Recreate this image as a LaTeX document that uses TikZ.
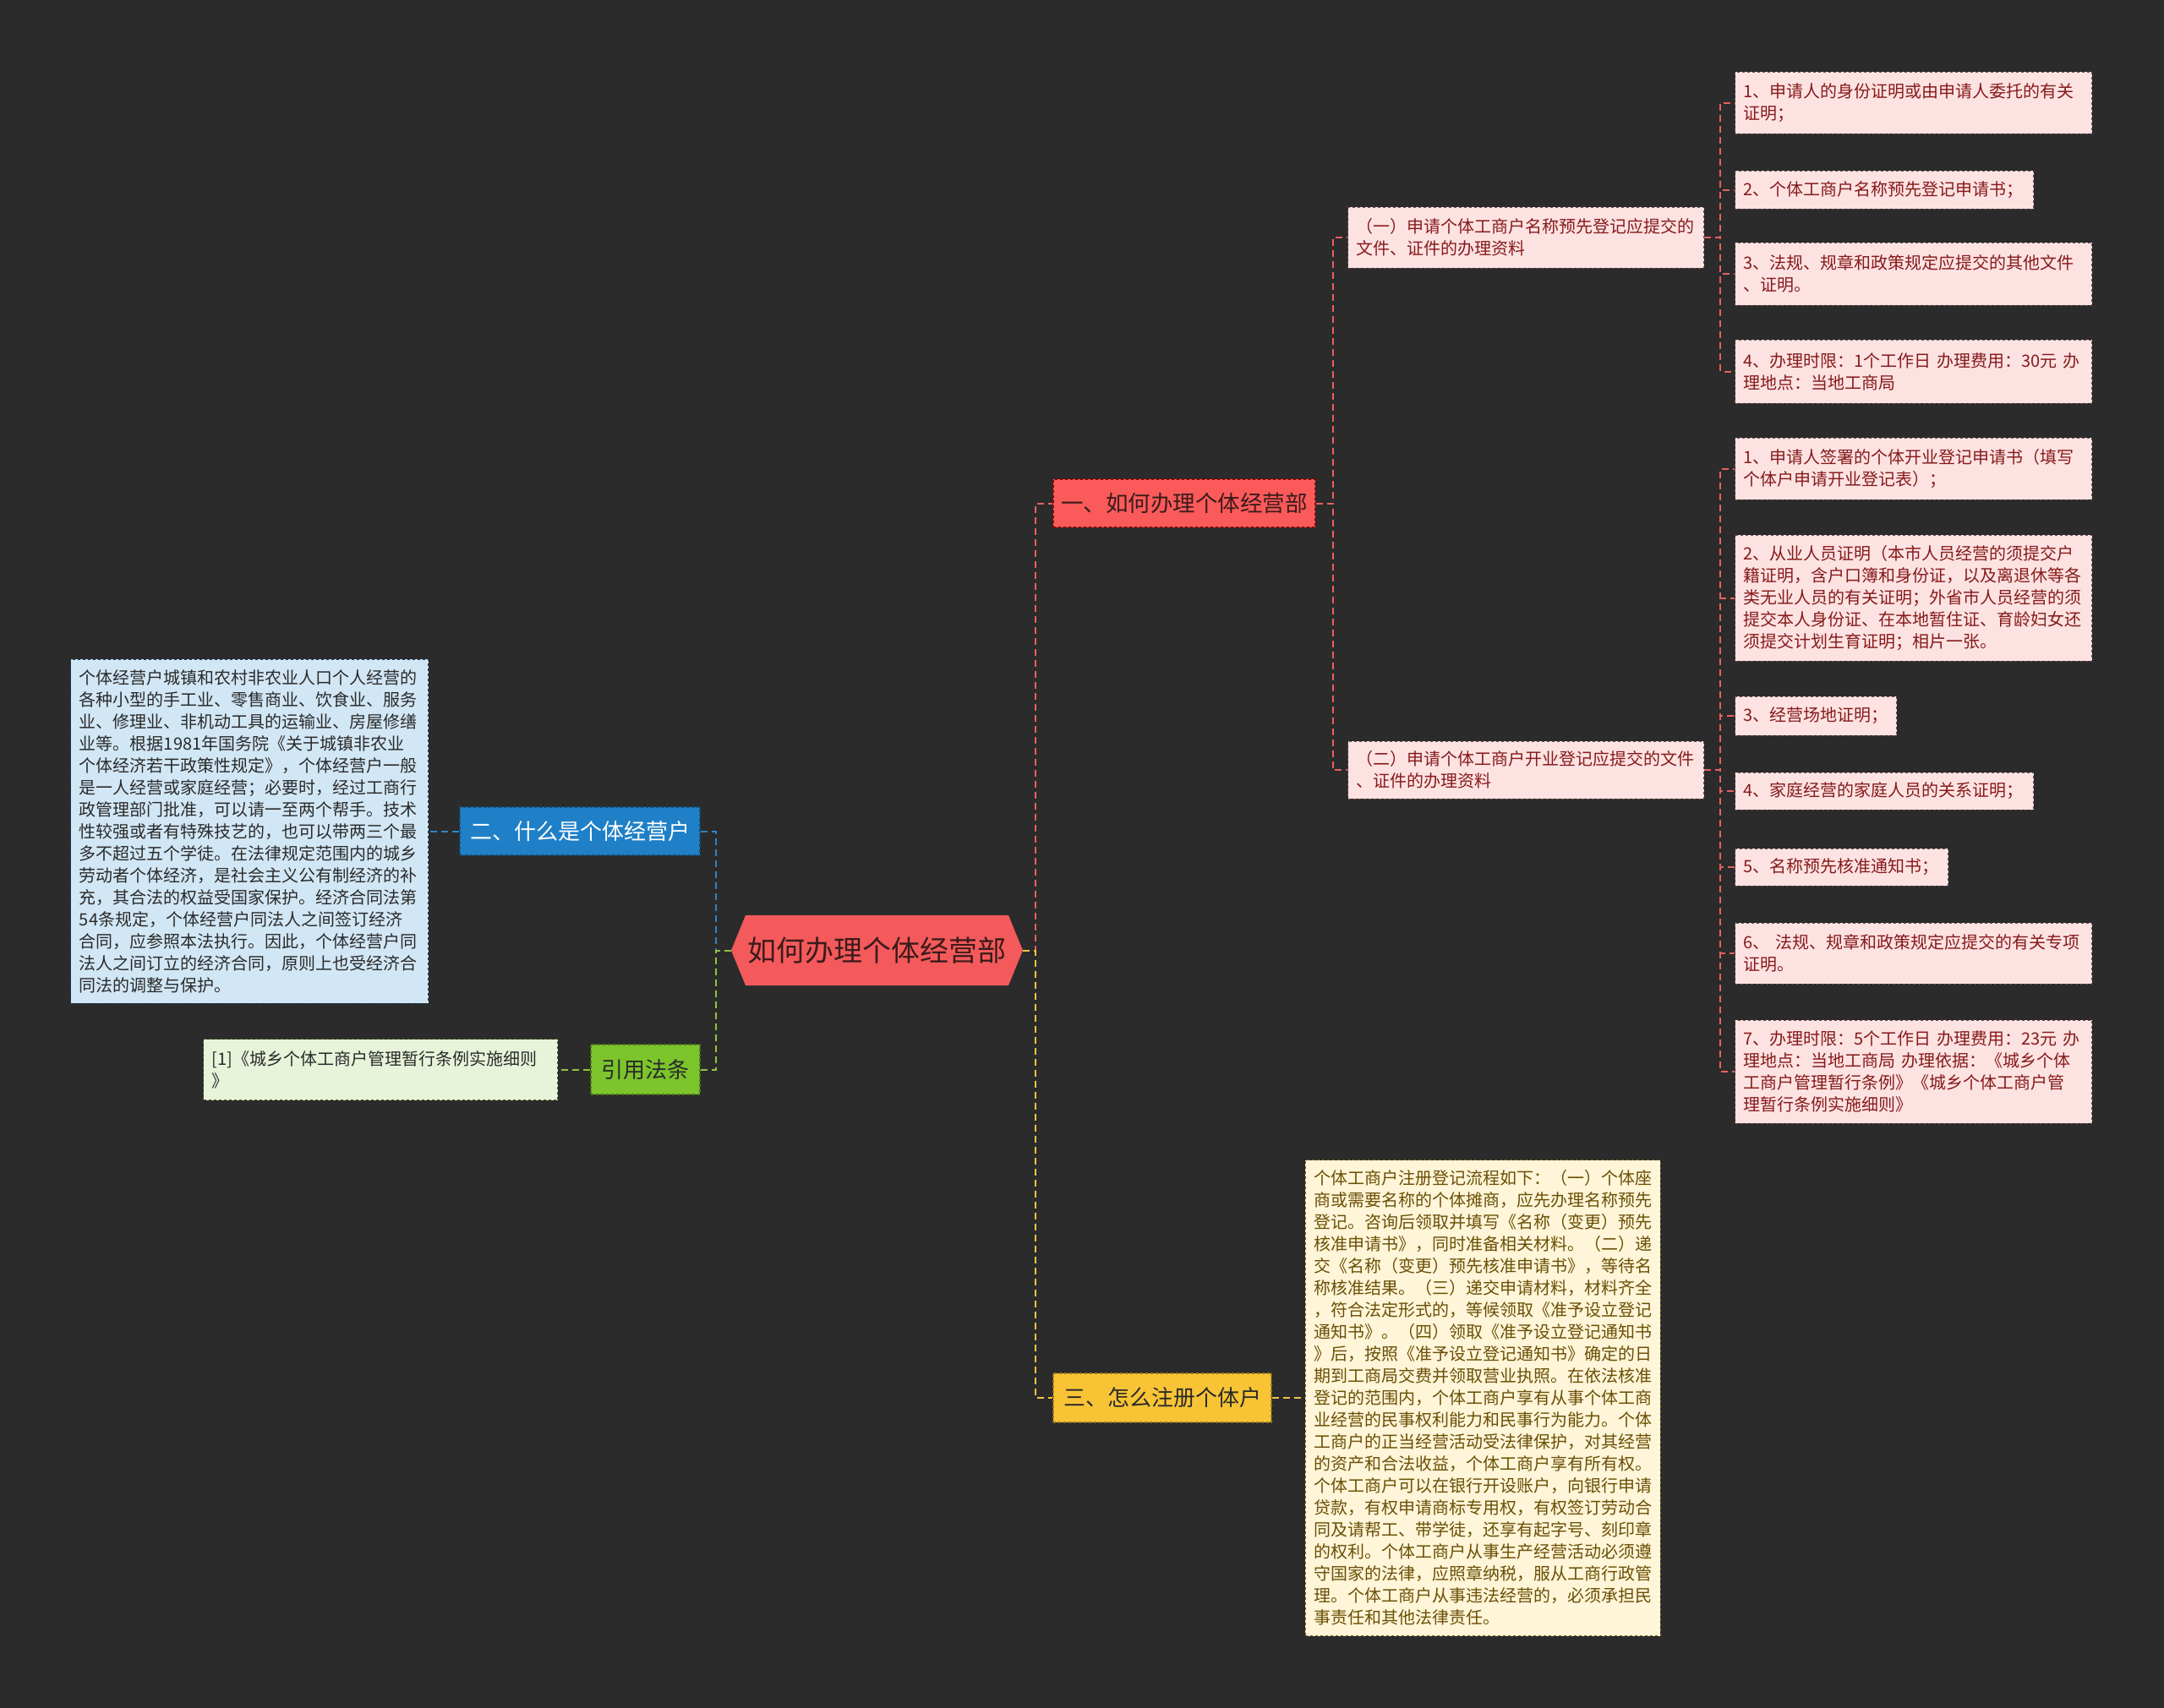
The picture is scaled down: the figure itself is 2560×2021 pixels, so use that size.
\documentclass[tikz,border=0pt]{standalone}
\usepackage{fontspec}
\setmainfont{Noto Sans CJK SC}
\usepackage{tikz}
\usetikzlibrary{positioning}
\usepackage{xcolor}

\definecolor{bg}{HTML}{2B2B2B}
\definecolor{rootred}{HTML}{F45A5B}
\definecolor{rootink}{HTML}{3B1B1B}
\definecolor{redtop}{HTML}{FA5A5A}
\definecolor{redline}{HTML}{E8605F}
\definecolor{pinkfill}{HTML}{FDE2E2}
\definecolor{pinkink}{HTML}{861A1A}
\definecolor{pinkedge}{HTML}{6E5050}
\definecolor{bluetop}{HTML}{1F80C7}
\definecolor{blueline}{HTML}{2B86C8}
\definecolor{bluefill}{HTML}{D2E7F5}
\definecolor{greentop}{HTML}{7CC42B}
\definecolor{greenline}{HTML}{8DC63F}
\definecolor{greenfill}{HTML}{E8F4DA}
\definecolor{yeltop}{HTML}{F8C436}
\definecolor{yelline}{HTML}{F4C443}
\definecolor{yelfill}{HTML}{FFF5D8}
\definecolor{yelink}{HTML}{6A4F05}
\definecolor{darkink}{HTML}{2A2A2A}

\begin{document}
\begin{tikzpicture}[
  x=1pt, y=-1pt,
  link/.style={line width=2pt, dash pattern=on 8pt off 5pt},
  root/.style={minimum width=345pt, minimum height=83pt, inner sep=0pt, fill=bg, text=rootink,
    font=\fontsize{34}{40}\selectfont,
    path picture={\fill[rootred] (path picture bounding box.west)
      -- ([xshift=17pt]path picture bounding box.north west) -- ([xshift=-17pt]path picture bounding box.north east)
      -- (path picture bounding box.east)
      -- ([xshift=-17pt]path picture bounding box.south east) -- ([xshift=17pt]path picture bounding box.south west) -- cycle;}},
  topic/.style={minimum height=57pt, inner sep=0pt, draw, dashed, line width=1.2pt, font=\fontsize{26}{30}\selectfont},
  leaf/.style={anchor=west, fill=pinkfill, draw=pinkedge, dashed, line width=1pt, text=pinkink, align=left,
    inner xsep=10pt, inner ysep=0pt, text width=402pt, font=\fontsize{20}{26}\selectfont},
  note/.style={draw, dashed, line width=1pt, align=left, inner xsep=10pt, inner ysep=0pt, text width=400pt,
    font=\fontsize{20}{26}\selectfont}
]
\fill[bg] (0,0) rectangle (2560,2021);

% centre and main topics
\node[root] (root) at (1037.5,1124.5) {如何办理个体经营部};
\node[topic, minimum width=310pt, fill=redtop, draw=red!55!black, text=rootink, font=\fontsize{26.5}{31}\selectfont] (t1) at (1401,595.5) {一、如何办理个体经营部};
\node[topic, minimum width=284pt, fill=bluetop, draw=bluetop!60!black, text=white] (t2) at (686,983.5) {二、什么是个体经营户};
\node[topic, minimum width=129pt, minimum height=59pt, fill=greentop, draw=greentop!60!black, text=darkink] (t4) at (763.5,1265.5) {引用法条};
\node[topic, minimum width=258pt, minimum height=58pt, fill=yeltop, draw=yeltop!60!black, text=darkink] (t3) at (1375,1654) {三、怎么注册个体户};

% second level under t1
\node[leaf, text width=401pt, minimum height=72pt] (s1) at (1594,281) {（一）申请个体工商户名称预先登记应提交的\\文件、证件的办理资料};
\node[leaf, text width=401pt, minimum height=68pt] (s2) at (1594,911) {（二）申请个体工商户开业登记应提交的文件\\、证件的办理资料};

% leaves of s1
\node[leaf, minimum height=73pt] (a1) at (2052,121.5) {1、申请人的身份证明或由申请人委托的有关\\证明；};
\node[leaf, text width=333pt, minimum height=45pt] (a2) at (2052,224.5) {2、个体工商户名称预先登记申请书；};
\node[leaf, minimum height=74pt] (a3) at (2052,324) {3、法规、规章和政策规定应提交的其他文件\\、证明。};
\node[leaf, minimum height=75pt] (a4) at (2052,439.5) {4、办理时限：1个工作日~办理费用：30元~办\\理地点：当地工商局};

% leaves of s2
\node[leaf, minimum height=73pt] (b1) at (2052,554.5) {1、申请人签署的个体开业登记申请书（填写\\个体户申请开业登记表）；};
\node[leaf, minimum height=149pt] (b2) at (2052,707.5) {2、从业人员证明（本市人员经营的须提交户\\籍证明，含户口簿和身份证，以及离退休等各\\类无业人员的有关证明；外省市人员经营的须\\提交本人身份证、在本地暂住证、育龄妇女还\\须提交计划生育证明；相片一张。};
\node[leaf, text width=171pt, minimum height=46pt] (b3) at (2052,847) {3、经营场地证明；};
\node[leaf, text width=333pt, minimum height=44pt] (b4) at (2052,936) {4、家庭经营的家庭人员的关系证明；};
\node[leaf, text width=232pt, minimum height=44pt] (b5) at (2052,1026) {5、名称预先核准通知书；};
\node[leaf, minimum height=72pt] (b6) at (2052,1128) {6、~法规、规章和政策规定应提交的有关专项\\证明。};
\node[leaf, minimum height=122pt] (b7) at (2052,1268) {7、办理时限：5个工作日~办理费用：23元~办\\理地点：当地工商局~办理依据：《城乡个体\\工商户管理暂行条例》《城乡个体工商户管\\理暂行条例实施细则》};

% detail notes
\node[note, fill=bluefill, draw=blueline!50!black, text=darkink, text width=403pt, minimum height=407pt, left=36pt of t2] (n2) {个体经营户城镇和农村非农业人口个人经营的\\各种小型的手工业、零售商业、饮食业、服务\\业、修理业、非机动工具的运输业、房屋修缮\\业等。根据1981年国务院《关于城镇非农业\\个体经济若干政策性规定》，个体经营户一般\\是一人经营或家庭经营；必要时，经过工商行\\政管理部门批准，可以请一至两个帮手。技术\\性较强或者有特殊技艺的，也可以带两三个最\\多不超过五个学徒。在法律规定范围内的城乡\\劳动者个体经济，是社会主义公有制经济的补\\充，其合法的权益受国家保护。经济合同法第\\54条规定，个体经营户同法人之间签订经济\\合同，应参照本法执行。因此，个体经营户同\\法人之间订立的经济合同，原则上也受经济合\\同法的调整与保护。};
\node[note, fill=greenfill, draw=greenline!50!black, text=darkink, text width=399pt, minimum height=72pt, left=38pt of t4] (n4) {[1]《城乡个体工商户管理暂行条例实施细则\\》};
\node[note, fill=yelfill, draw=yelline!50!black, text=yelink, text width=400pt, minimum height=563pt, right=39pt of t3] (n3) {个体工商户注册登记流程如下：（一）个体座\\商或需要名称的个体摊商，应先办理名称预先\\登记。咨询后领取并填写《名称（变更）预先\\核准申请书》，同时准备相关材料。（二）递\\交《名称（变更）预先核准申请书》，等待名\\称核准结果。（三）递交申请材料，材料齐全\\，符合法定形式的，等候领取《准予设立登记\\通知书》。（四）领取《准予设立登记通知书\\》后，按照《准予设立登记通知书》确定的日\\期到工商局交费并领取营业执照。在依法核准\\登记的范围内，个体工商户享有从事个体工商\\业经营的民事权利能力和民事行为能力。个体\\工商户的正当经营活动受法律保护，对其经营\\的资产和合法收益，个体工商户享有所有权。\\个体工商户可以在银行开设账户，向银行申请\\贷款，有权申请商标专用权，有权签订劳动合\\同及请帮工、带学徒，还享有起字号、刻印章\\的权利。个体工商户从事生产经营活动必须遵\\守国家的法律，应照章纳税，服从工商行政管\\理。个体工商户从事违法经营的，必须承担民\\事责任和其他法律责任。};

% connectors
\draw[link, redline] (root.east) -- ++(15,0) |- (t1.west);
\draw[link, yelline] (root.east) -- ++(15,0) |- (t3.west);
\draw[link, blueline] (root.west) -- ++(-18,0) |- (t2.east);
\draw[link, greenline] (root.west) -- ++(-18,0) |- (t4.east);
\draw[link, blueline] (t2.west) -- (n2.east);
\draw[link, greenline] (t4.west) -- (n4.east);
\draw[link, yelline] (t3.east) -- (n3.west);
\foreach \s in {s1,s2}
  \draw[link, redline] (t1.east) -- ++(20,0) |- (\s.west);
\foreach \a in {a1,a2,a3,a4}
  \draw[link, redline] (s1.east) -- ++(19,0) |- (\a.west);
\foreach \b in {b1,b2,b3,b4,b5,b6,b7}
  \draw[link, redline] (s2.east) -- ++(19,0) |- (\b.west);
\end{tikzpicture}
\end{document}
